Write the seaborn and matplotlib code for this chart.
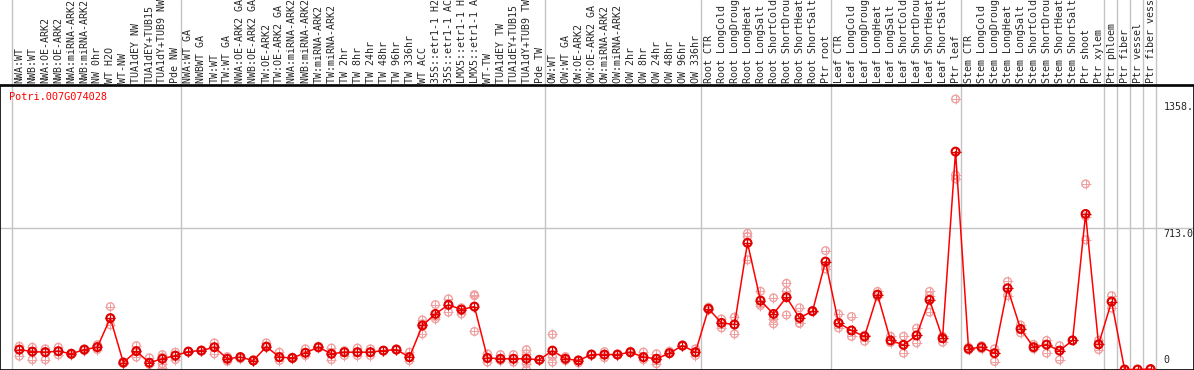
import matplotlib
matplotlib.use("Agg")
import matplotlib.pyplot as plt
import pandas as pd
import numpy as np
import seaborn as sns

# sample names (columns of the expression table)
samples = [
    "NWA:WT", "NWB:WT", "NWA:OE-ARK2", "NWB:OE-ARK2", "NWA:miRNA-ARK2", "NWB:miRNA-ARK2",
    "NW 0hr", "WT H2O", "WT-NW", "TUA1dEY NW", "TUA1dEY+TUB15", "TUA1dY+TUB9 NW", "Pde NW",
    "NWA:WT GA", "NWBWT GA", "TW:WT", "TW:WT GA", "NWA:OE-ARK2 GA", "NWB:OE-ARK2 GA",
    "TW:OE-ARK2", "TW:OE-ARK2 GA", "NWA:miRNA-ARK2 GA", "NWB:miRNA-ARK2 GA", "TW:miRNA-ARK2",
    "TW:miRNA-ARK2 GA", "TW 2hr", "TW 8hr", "TW 24hr", "TW 48hr", "TW 96hr", "TW 336hr",
    "WT ACC", "35S::etr1-1 H2O", "35S::etr1-1 ACC", "LMX5::etr1-1 H2O", "LMX5::etr1-1 ACC",
    "WT-TW", "TUA1dEY TW", "TUA1dEY+TUB15 TW", "TUA1dY+TUB9 TW", "Pde TW",
    "OW:WT", "OW:WT GA", "OW:OE-ARK2", "OW:OE-ARK2 GA", "OW:miRNA-ARK2", "OW:miRNA-ARK2 GA",
    "OW 2hr", "OW 8hr", "OW 24hr", "OW 48hr", "OW 96hr", "OW 336hr",
    "Root CTR", "Root LongCold", "Root LongDrought", "Root LongHeat", "Root LongSalt",
    "Root ShortCold", "Root ShortDrought", "Root ShortHeat", "Root ShortSalt", "Ptr root",
    "Leaf CTR", "Leaf LongCold", "Leaf LongDrought", "Leaf LongHeat", "Leaf LongSalt",
    "Leaf ShortCold", "Leaf ShortDrought", "Leaf ShortHeat", "Leaf ShortSalt", "Ptr leaf",
    "Stem CTR", "Stem LongCold", "Stem LongDrought", "Stem LongHeat", "Stem LongSalt",
    "Stem ShortCold", "Stem ShortDrought", "Stem ShortHeat", "Stem ShortSalt", "Ptr shoot",
    "Ptr xylem", "Ptr phloem", "Ptr fiber", "Ptr vessel", "Ptr fiber vessel",
]

# mean expression per sample
means = [
    100, 90, 87, 92, 79, 100, 112, 258, 35, 92, 34, 54, 70,
    90, 95, 112, 54, 62, 45, 115, 62, 58, 84, 112, 79, 87, 87, 87, 95, 100, 62,
    221, 279, 325, 301, 316, 58, 54, 54, 54, 49,
    95, 54, 45, 75, 75, 75, 87, 62, 54, 82, 120, 87,
    305, 234, 226, 636, 346, 279, 363, 259, 293, 542,
    234, 196, 166, 376, 146, 124, 171, 350, 157, 1094,
    104, 112, 82, 408, 204, 112, 125, 95, 146, 781,
    126, 341, 0, 0, 2,
]

# individual replicates per sample
reps = [
    [117, 67, 100], [112, 49, 90], [104, 49, 90], [112, 74, 92], [82, 74, 79], [104, 95, 100],
    [125, 100, 117], [316, 224, 258], [30, 37, 35], [120, 62, 92], [59, 25, 34], [75, 62, 29, 8],
    [87, 50, 70],
    [90, 92, 88], [98, 92, 95], [134, 79, 112], [65, 41, 54], [65, 54, 62], [49, 42, 45],
    [134, 112, 115], [87, 45, 62], [62, 58, 55], [104, 70, 84], [117, 112, 108],
    [108, 49, 79], [95, 70, 87], [108, 70, 87], [104, 70, 87], [95, 95, 95], [104, 100, 98],
    [87, 45, 62],
    [249, 179, 230], [326, 254, 266], [355, 288, 325], [300, 279, 310], [376, 370, 191],
    [79, 37, 58], [75, 45, 54], [75, 37, 54], [100, 79, 29, 0], [49, 50, 47],
    [176, 65, 37], [65, 45, 54], [49, 33, 45], [75, 78, 72], [90, 59, 75], [75, 78, 72],
    [92, 87, 84], [88, 49, 62], [79, 29, 54], [92, 82, 80], [124, 120, 117], [104, 70, 87],
    [313, 300, 305], [254, 209, 234], [263, 179, 226], [684, 668, 551], [393, 321, 330],
    [360, 254, 229], [433, 393, 274], [310, 233, 231], [296, 290, 293], [597, 522, 505],
    [279, 209, 234], [266, 166, 196], [172, 142, 166], [392, 376, 365], [167, 135, 146],
    [167, 82, 124], [207, 134, 171], [392, 370, 288], [167, 137, 157], [1358, 977, 957],
    [112, 98, 104], [120, 104, 112], [104, 40, 82], [442, 371, 408], [224, 184, 204],
    [126, 104, 112], [146, 82, 125], [120, 49, 95], [146, 146, 146], [932, 768, 651],
    [146, 100, 126], [371, 308, 341], [0, 0, 0], [0, 0, 0], [4, 2, 0],
]

# column boundaries where the gray separators are drawn
separators = [-0.6, 12.4, 40.4, 52.4, 62.4, 72.4, 83.4, 84.4, 85.4, 86.4, 87.4]
gene = "Potri.007G074028"

x = np.arange(len(samples))
df_mean = pd.DataFrame({"pos": x, "value": means})
df_rep = pd.DataFrame({
    "pos": np.concatenate([[i] * len(r) for i, r in enumerate(reps)]),
    "value": np.concatenate(reps),
})

ymax = max(max(r) for r in reps)
ytop = ymax * 1.05

sns.set_style("white")
plt.rcParams["font.family"] = ["DejaVu Sans Mono"]

W, H = 1194, 370
fig = plt.figure(figsize=(W / 100, H / 100), dpi=100)
ax = fig.add_axes([0, 0.5 / H, 1193.5 / W, (369 - 85) / H])
hdr = fig.add_axes([0, 1 - 85 / H, 1, 85 / H])

xlim = (-1.485, 90.3)
for a in (ax, hdr):
    a.set_xlim(*xlim)
    for s in separators:
        a.axvline(s, color="#c4c4c4", lw=1, zorder=0)

ax.set_ylim(0, ytop)
ax.axhline(ytop / 2, color="#c4c4c4", lw=1, zorder=0)

pink = "#f0a0a0"
sns.scatterplot(data=df_rep, x="pos", y="value", ax=ax, marker="o", s=30,
                facecolor="none", edgecolor=pink, linewidth=1.0, zorder=2, clip_on=False)
sns.scatterplot(data=df_rep, x="pos", y="value", ax=ax, marker="+", s=50,
                color=pink, linewidth=0.7, zorder=2, clip_on=False)
sns.lineplot(data=df_mean, x="pos", y="value", ax=ax, color="#ff0000", lw=1.1, zorder=3)
sns.scatterplot(data=df_mean, x="pos", y="value", ax=ax, marker="o", s=32,
                facecolor="none", edgecolor="#e00000", linewidth=1.5, zorder=4, clip_on=False)
sns.scatterplot(data=df_mean, x="pos", y="value", ax=ax, marker="+", s=55,
                color="#e00000", linewidth=0.9, zorder=4, clip_on=False)

ax.set_xticks([])
ax.set_yticks([])
ax.set_xlabel("")
ax.set_ylabel("")
for sp in ax.spines.values():
    sp.set_visible(True)
    sp.set_color("black")
    sp.set_linewidth(1.2)

# y labels on the right side
xlab = 88.0
ax.annotate(f"{ymax:.1f}", (xlab, ymax), xytext=(0, -2), textcoords="offset points",
            fontsize=7.2, va="top", ha="left", annotation_clip=False)
ax.annotate(f"{ytop / 2:.1f}", (xlab, ytop / 2), xytext=(0, -1), textcoords="offset points",
            fontsize=7.2, va="top", ha="left", annotation_clip=False)
ax.annotate("0", (xlab, 0), xytext=(0, 3), textcoords="offset points",
            fontsize=7.2, va="bottom", ha="left", annotation_clip=False)

ax.text(-0.8, ytop - 12 / 0.1992, gene, color="red", fontsize=7.4, va="center", ha="left")

# header with rotated sample names
hdr.set_ylim(0, 85)
hdr.axis("off")
hdr.axhline(0, color="black", lw=1.2, clip_on=False)
for i, name in enumerate(samples):
    hdr.text(i, 2.3, name, rotation=90, ha="center", va="bottom", fontsize=7.2,
             clip_on=False)

fig.savefig("out.png", dpi=100)
